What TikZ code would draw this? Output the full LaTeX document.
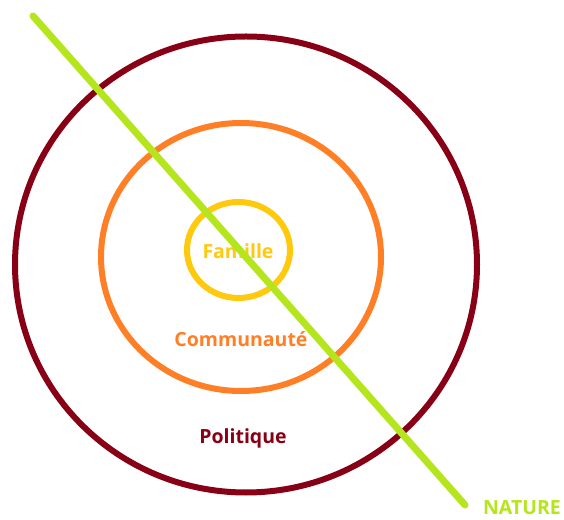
\documentclass[tikz,border=0pt]{standalone}
\usepackage{fontspec}
\setmainfont{Open Sans}
\definecolor{pdarkred}{HTML}{880015}
\definecolor{porange}{HTML}{FF7F27}
\definecolor{pgold}{HTML}{FFC90E}
\definecolor{plime}{HTML}{B5E61D}
\tikzset{
  ring/.style={line width=6pt},
  lbl/.style={font=\bfseries\fontsize{19.5}{22}\selectfont, inner sep=0pt},
}
\begin{document}
\begin{tikzpicture}[x=1pt,y=1pt]
\useasboundingbox[fill=white] (0,0) rectangle (564,519);
\draw[ring, pdarkred] (246,254.5) ellipse [x radius=231pt, y radius=228pt];
\draw[ring, porange] (241,262) ellipse [x radius=140pt, y radius=134pt];
\draw[ring, pgold] (238.5,269) ellipse [x radius=51.5pt, y radius=48pt];
\node[lbl, text=pgold] (famille) at (238,268) {Famille};
\node[lbl, text=porange] (commu) at (241,180) {Communauté};
\node[lbl, text=pdarkred] (poli) at (243,81) {Politique};
\node[lbl, text=plime] (nature) at (522,11) {NATURE};
\coordinate (a) at (33,503);
\coordinate (b) at (465,14);
\draw[line width=7pt, plime, line cap=round] (a) -- (b);
\end{tikzpicture}
\end{document}
